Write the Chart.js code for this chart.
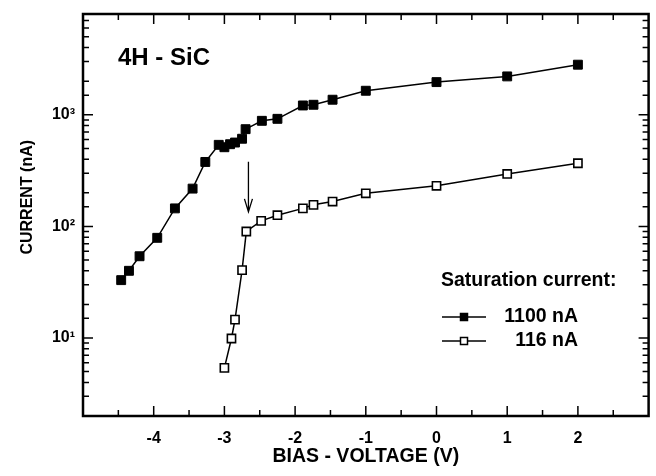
<!DOCTYPE html>
<html>
<head>
<meta charset="utf-8">
<script src="https://cdn.jsdelivr.net/npm/chart.js@4"></script>
<style>
  html, body { margin: 0; padding: 0; background: #fff; overflow: hidden; }
  #content { width: 656px; height: 476px; }
  canvas { display: block; }
</style>
</head>
<body>
<div id="content"><canvas id="iv" width="656" height="476"></canvas></div>
<script>
// bias voltage (V) and current (nA)
const volts_filled = [-4.46, -4.35, -4.2, -3.95, -3.7, -3.45, -3.27, -3.08, -3.0, -2.92, -2.85, -2.75, -2.7, -2.47, -2.25, -1.89, -1.74, -1.47, -1.0, 0, 1, 2];
const current_filled = [33, 40, 54, 79, 145, 218, 378, 538, 512, 545, 564, 610, 743, 883, 920, 1212, 1230, 1365, 1642, 1963, 2208, 2812];

const volts_open = [-3.0, -2.9, -2.85, -2.75, -2.69, -2.48, -2.25, -1.89, -1.74, -1.47, -1.0, 0, 1, 2];
const current_open = [5.4, 9.9, 14.6, 40.6, 90, 112, 126, 145, 156, 167, 198, 231, 295, 368];

const series_labels = ['1100 nA', '116 nA'];
const x_tick_labels = [-4, -3, -2, -1, 0, 1, 2];
const y_tick_labels = { 10: '10\u00b9', 100: '10\u00b2', 1000: '10\u00b3' };

// arrow marking the knee: x position, top and bottom current
const arrow_at = { x: -2.66, from: 380, to: 135 };

const FONT = '"Liberation Sans", Arial, Helvetica, sans-serif';
Chart.defaults.font.family = FONT;
Chart.defaults.color = '#000';

const toPoints = (xs, ys) => xs.map((x, i) => ({ x: x, y: ys[i] }));

// frame + inward ticks on all four sides, arrow, label and legend
const decor = {
  id: 'decor',
  afterDraw(chart) {
    const ctx = chart.ctx;
    const a = chart.chartArea;
    const xs = chart.scales.x;
    const ys = chart.scales.y;
    ctx.save();
    ctx.strokeStyle = '#000';

    // ticks
    ctx.lineWidth = 1.5;
    ctx.beginPath();
    xs.ticks.forEach(t => {
      const px = xs.getPixelForValue(t.value);
      if (px <= a.left + 1 || px >= a.right - 1) return;
      const len = Number.isInteger(t.value) ? 10 : 6;
      ctx.moveTo(px, a.bottom); ctx.lineTo(px, a.bottom - len);
      ctx.moveTo(px, a.top); ctx.lineTo(px, a.top + len);
    });
    ys.ticks.forEach(t => {
      const py = ys.getPixelForValue(t.value);
      if (py <= a.top + 1 || py >= a.bottom - 1) return;
      const major = y_tick_labels[t.value] !== undefined;
      const len = major ? 10 : 6;
      ctx.moveTo(a.left, py); ctx.lineTo(a.left + len, py);
      ctx.moveTo(a.right, py); ctx.lineTo(a.right - len, py);
    });
    ctx.stroke();

    // frame
    ctx.lineWidth = 2.5;
    ctx.strokeRect(a.left, a.top, a.right - a.left, a.bottom - a.top);

    // arrow
    const ax = xs.getPixelForValue(arrow_at.x);
    const ay0 = ys.getPixelForValue(arrow_at.from);
    const ay1 = ys.getPixelForValue(arrow_at.to);
    ctx.lineWidth = 1.3;
    ctx.beginPath();
    ctx.moveTo(ax, ay0); ctx.lineTo(ax, ay1);
    ctx.moveTo(ax - 4, ay1 - 13); ctx.lineTo(ax, ay1); ctx.lineTo(ax + 4, ay1 - 13);
    ctx.stroke();

    // material label
    ctx.fillStyle = '#000';
    ctx.font = 'bold 24px ' + FONT;
    ctx.textBaseline = 'middle';
    ctx.textAlign = 'left';
    ctx.fillText('4H - SiC', 118, 58);

    // legend
    ctx.font = 'bold 19.5px ' + FONT;
    ctx.fillText('Saturation current:', 441, 281);
    chart.data.datasets.forEach((ds, i) => {
      const y = 317 + i * 24;
      ctx.lineWidth = 1.5;
      ctx.beginPath();
      ctx.moveTo(442, y); ctx.lineTo(486, y);
      ctx.stroke();
      ctx.fillStyle = ds.pointBackgroundColor;
      ctx.fillRect(460.5, y - 3.5, 7, 7);
      ctx.lineWidth = 1.5;
      ctx.strokeRect(460.5, y - 3.5, 7, 7);
      ctx.fillStyle = '#000';
      ctx.textAlign = 'right';
      ctx.fillText(ds.label, 578, y);
      ctx.textAlign = 'left';
    });
    ctx.restore();
  }
};

new Chart(document.getElementById('iv'), {
  type: 'line',
  data: {
    datasets: [
      {
        label: series_labels[0],
        data: toPoints(volts_filled, current_filled),
        borderColor: '#000',
        borderWidth: 1.5,
        pointStyle: 'rect',
        pointRadius: 6.3,
        pointBackgroundColor: '#000',
        pointBorderColor: '#000',
        pointBorderWidth: 1
      },
      {
        label: series_labels[1],
        data: toPoints(volts_open, current_open),
        borderColor: '#000',
        borderWidth: 1.5,
        pointStyle: 'rect',
        pointRadius: 5.8,
        pointBackgroundColor: '#fff',
        pointBorderColor: '#000',
        pointBorderWidth: 1.6
      }
    ]
  },
  options: {
    responsive: false,
    animation: false,
    events: [],
    layout: { padding: { top: 14, right: 6, left: 0, bottom: 0 } },
    plugins: {
      legend: { display: false },
      tooltip: { enabled: false }
    },
    scales: {
      x: {
        type: 'linear',
        min: -5,
        max: 3,
        grid: { display: false, drawTicks: false },
        border: { display: false },
        ticks: {
          stepSize: 0.5,
          autoSkip: false,
          maxRotation: 0,
          padding: 13,
          font: { size: 16, weight: 'bold' },
          callback: v => x_tick_labels.includes(v) ? String(v) : ''
        },
        title: {
          display: true,
          text: 'BIAS - VOLTAGE (V)',
          font: { size: 19.5, weight: 'bold' },
          padding: { top: 8, bottom: 8 }
        },
        afterFit: s => { s.height = 60; s.paddingLeft = 0; s.paddingRight = 0; }
      },
      y: {
        type: 'logarithmic',
        min: 2,
        max: 8000,
        grid: { display: false, drawTicks: false },
        border: { display: false },
        ticks: {
          autoSkip: false,
          padding: 8,
          font: { size: 16, weight: 'bold' },
          callback: v => y_tick_labels[v] || ''
        },
        title: {
          display: true,
          text: '        CURRENT (nA)',
          font: { size: 16, weight: 'bold' },
          padding: { top: 18, bottom: 18 }
        },
        afterFit: s => { s.width = 83; s.paddingTop = 0; s.paddingBottom = 0; }
      }
    }
  },
  plugins: [decor]
});
</script>
</body>
</html>
